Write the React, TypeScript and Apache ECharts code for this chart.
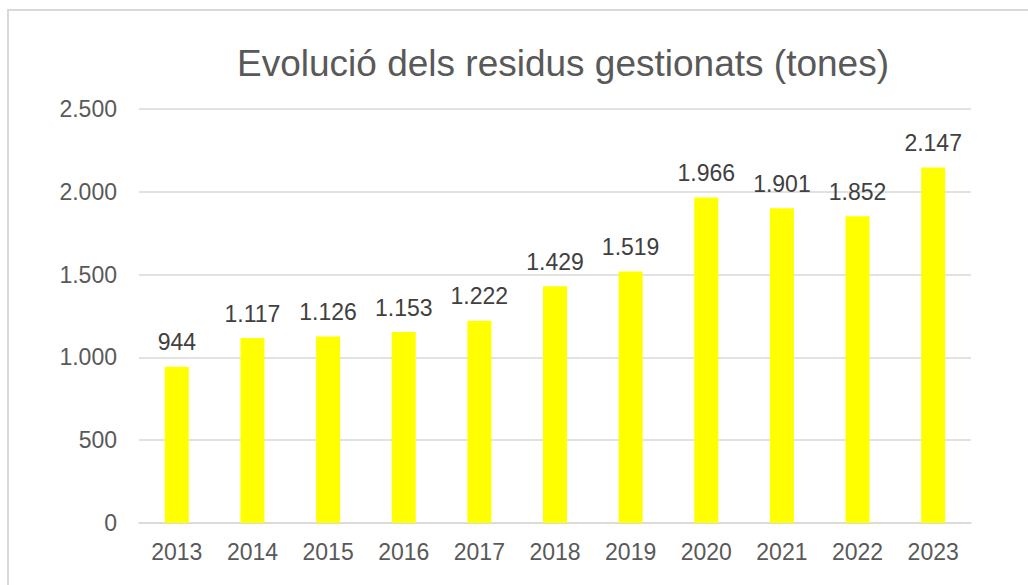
import React, { useEffect, useRef } from "react";
import * as echarts from "echarts";

const years = ["2013", "2014", "2015", "2016", "2017", "2018", "2019", "2020", "2021", "2022", "2023"];
const tones = [944, 1117, 1126, 1153, 1222, 1429, 1519, 1966, 1901, 1852, 2147];
const chartTitle = "Evolució dels residus gestionats (tones)";

const fmt = (v: number) => String(v).replace(/\B(?=(\d{3})+(?!\d))/g, ".");

export default function App() {
  const ref = useRef<HTMLDivElement>(null);
  useEffect(() => {
    if (!ref.current) return;
    const chart = echarts.init(ref.current, null, { renderer: "svg" });
    const font = "'Liberation Sans', Arial, sans-serif";
    chart.setOption({
      animation: false,
      backgroundColor: "#ffffff",
      textStyle: { fontFamily: font },
      title: {
        text: chartTitle,
        left: 558,
        textAlign: "center",
        top: 40,
        textStyle: { fontFamily: font, fontSize: 37, fontWeight: "normal", color: "#595959" },
      },
      graphic: [
        {
          type: "rect",
          shape: { x: 8, y: 10, width: 1100, height: 700 },
          style: { fill: "none", stroke: "#d9d9d9", lineWidth: 2 },
          silent: true,
        },
      ],
      grid: { left: 139, right: 57, top: 109, bottom: 62 },
      xAxis: {
        type: "category",
        data: years,
        axisLine: { lineStyle: { color: "#d9d9d9", width: 1.5 } },
        axisTick: { show: false },
        axisLabel: { color: "#595959", fontSize: 23, fontFamily: font, margin: 17 },
      },
      yAxis: {
        type: "value",
        min: 0,
        max: 2500,
        interval: 500,
        axisLine: { show: false },
        axisTick: { show: false },
        splitLine: { lineStyle: { color: "#d9d9d9", width: 1.5 } },
        axisLabel: { color: "#595959", fontSize: 23, fontFamily: font, margin: 22, formatter: (v: number) => fmt(v) },
      },
      series: [
        {
          type: "bar",
          data: tones,
          barWidth: 24,
          itemStyle: { color: "#ffff00" },
          label: {
            show: true,
            position: "top",
            distance: 13,
            color: "#404040",
            fontSize: 23,
            fontFamily: font,
            formatter: (p: any) => fmt(p.value),
          },
        },
      ],
    });
    return () => chart.dispose();
  }, []);
  return <div ref={ref} style={{ position: "fixed", left: 0, top: 0, width: 1028, height: 585 }} />;
}
